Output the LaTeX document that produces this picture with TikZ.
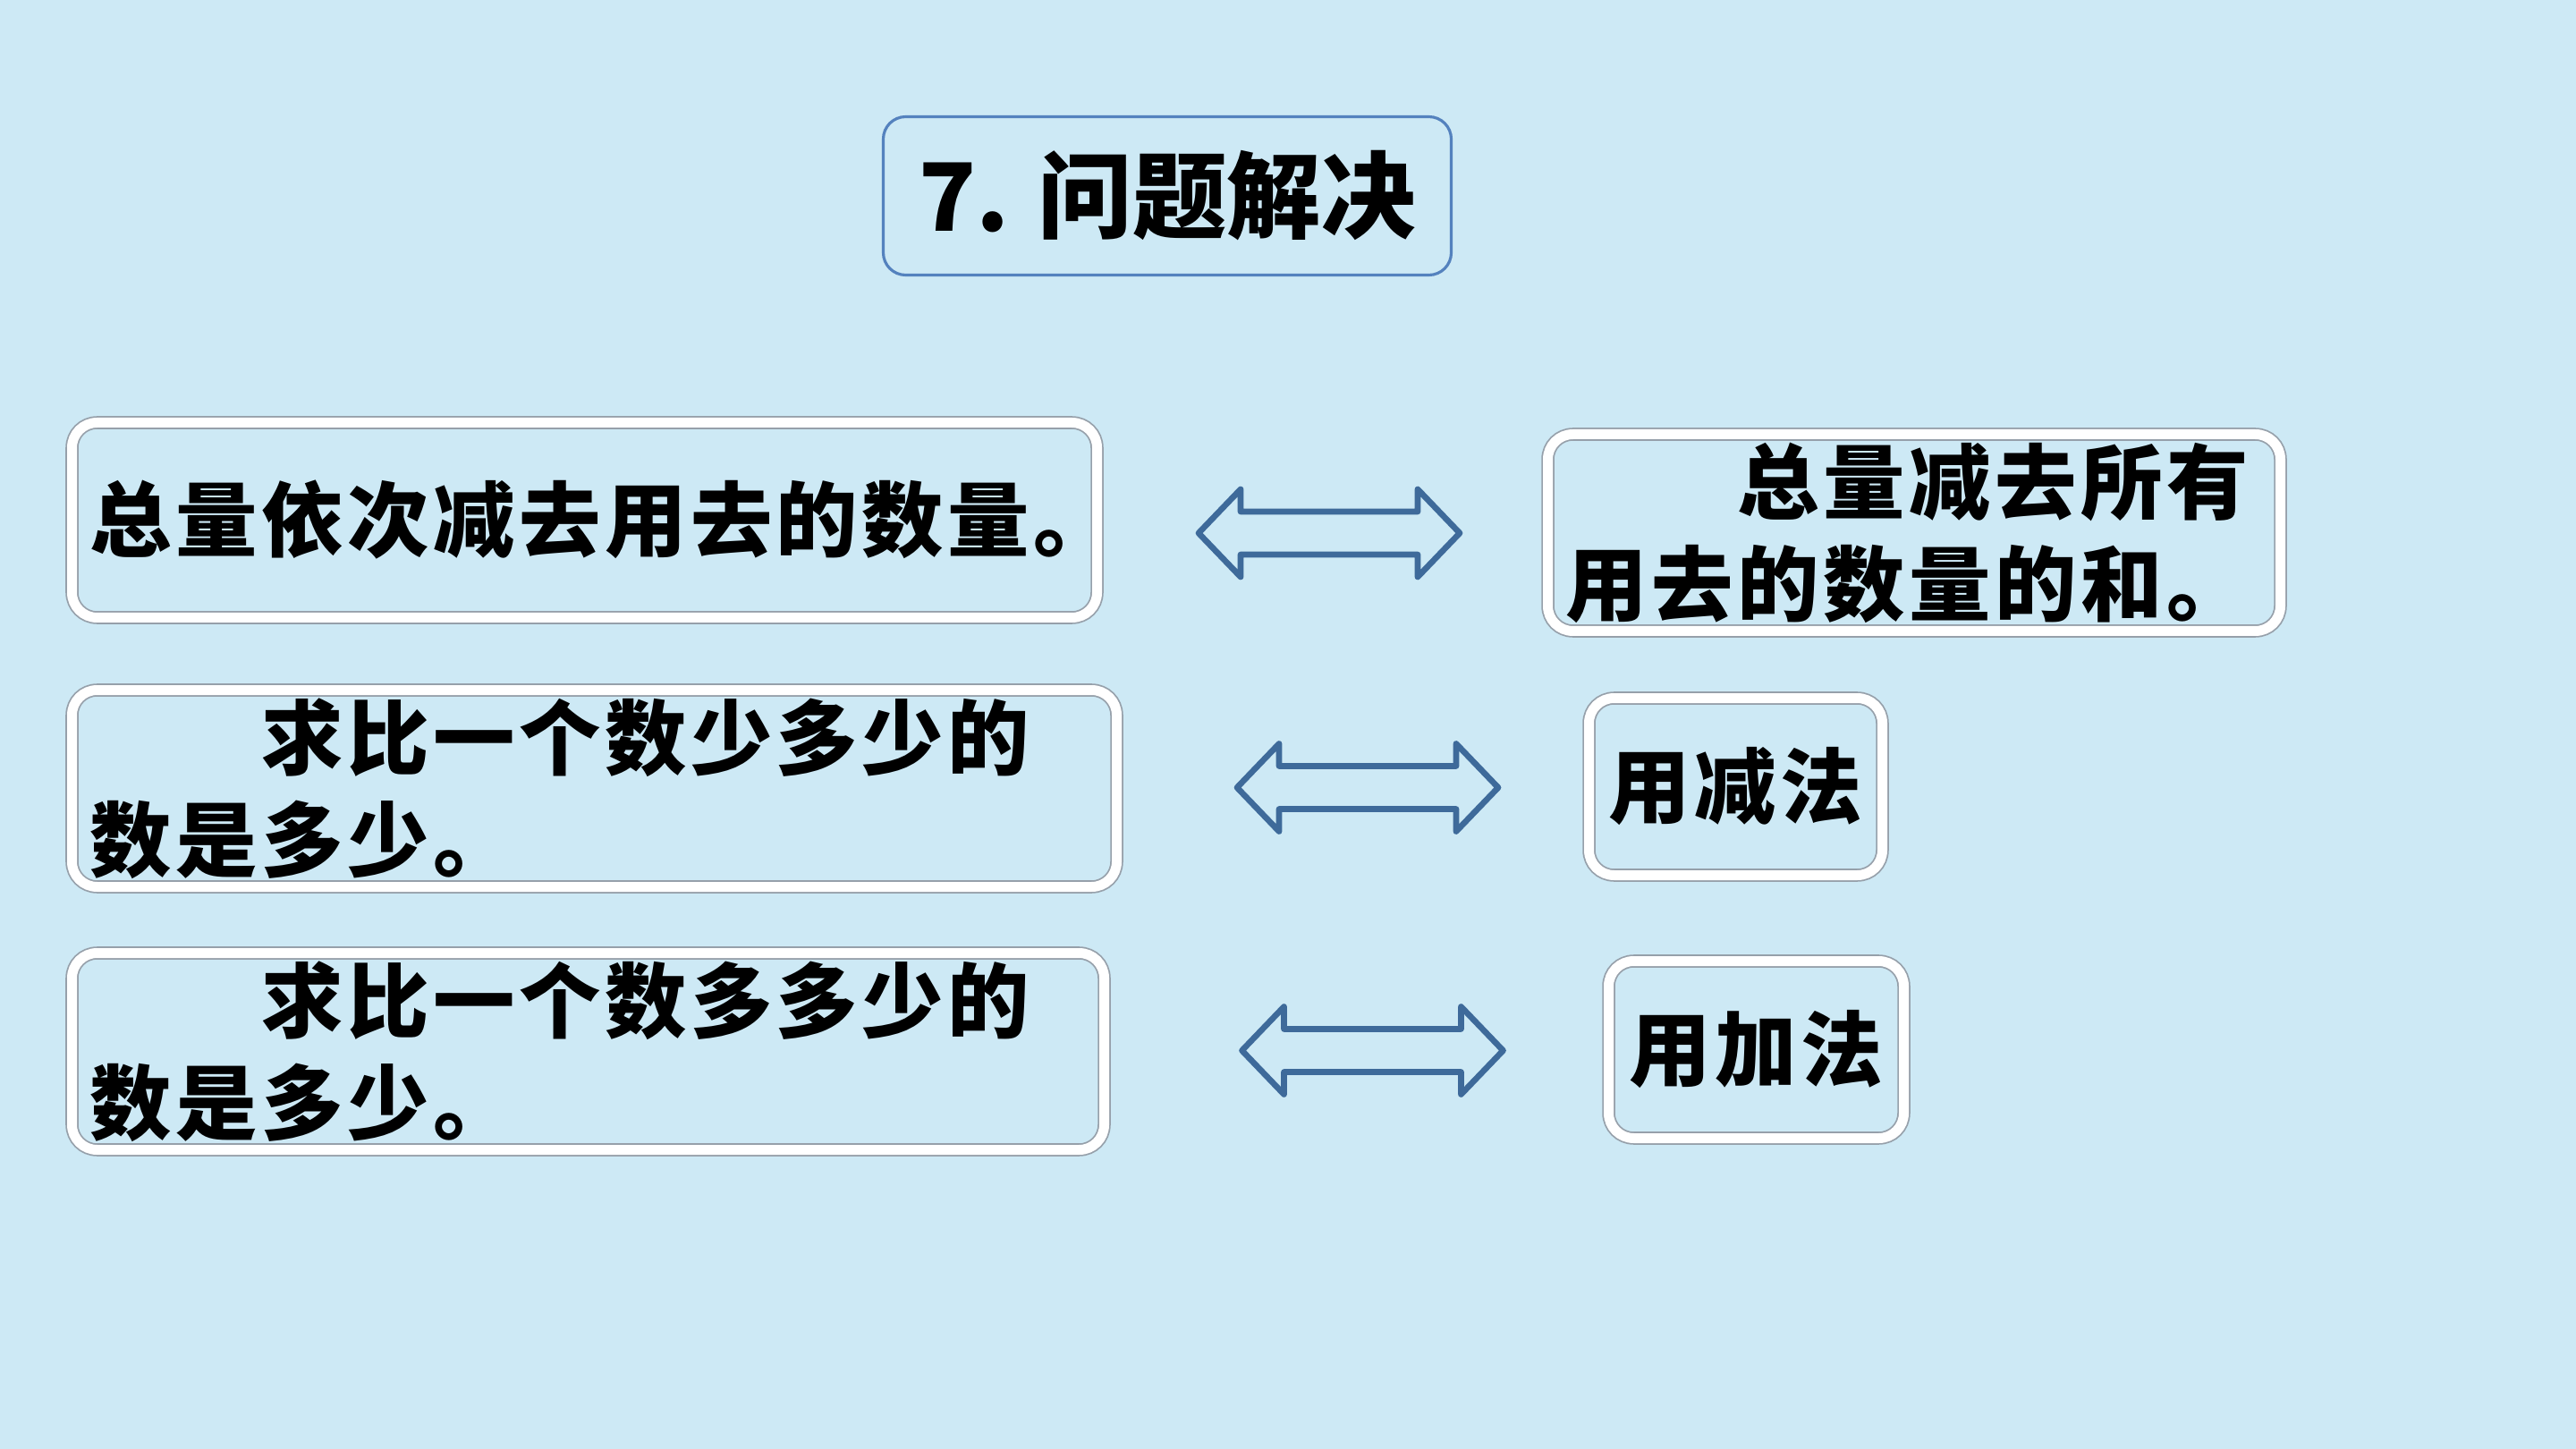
\documentclass[tikz,border=0pt]{standalone}
\usepackage{fontspec}
\setmainfont{Noto Sans CJK SC}
\newfontfamily\spacedcjk{Noto Sans CJK SC}[LetterSpace=5]
\definecolor{bg}{RGB}{205,233,245}
\definecolor{arrowblue}{RGB}{62,106,154}
\definecolor{titleblue}{RGB}{84,130,190}
\definecolor{framegray}{RGB}{150,160,170}
\tikzset{
  framebox/.style={draw=framegray, line width=0.5pt, double=white, double distance=0.11cm,
    rounded corners=0.28cm, fill=bg, inner xsep=0.2cm, inner ysep=0pt,
    font=\spacedcjk\fontsize{26}{32.4}\selectfont\bfseries, align=left},
  titlebox/.style={draw=titleblue, line width=0.9pt, rounded corners=0.25cm, fill=bg,
    minimum width=6.35cm, minimum height=1.77cm, font=\fontsize{30}{36}\selectfont\bfseries},
  arrowline/.style={draw=arrowblue, line width=1.9pt, line join=round},
  dblarrow/.pic={
    \draw[arrowline] (-1.46,0) -- (-0.99,-0.49) -- (-0.99,-0.24) -- (0.99,-0.24) -- (0.99,-0.49)
      -- (1.46,0) -- (0.99,0.49) -- (0.99,0.24) -- (-0.99,0.24) -- (-0.99,0.49) -- cycle;
  }
}
\begin{document}
\begin{tikzpicture}[x=1cm,y=-1cm]
\fill[bg] (0,0) rectangle (28.8,16.2);
\useasboundingbox (0,0) rectangle (28.8,16.2);

\node[titlebox] (title) at (13.05,2.19) {7. 问题解决};

\node[framebox, text width=11.06cm, minimum height=2.18cm] (l1) at (6.535,5.815)
  {总量依次减去用去的数量。};
\node[framebox, text width=7.79cm, minimum height=2.20cm] (r1) at (21.40,5.955)
  {　　总量减去所有\\用去的数量的和。};

\node[framebox, text width=11.28cm, minimum height=2.20cm] (l2) at (6.645,8.815)
  {　　求比一个数少多少的\\数是多少。};
\node[framebox, text width=2.88cm, minimum height=1.98cm, align=center] (r2) at (19.405,8.795)
  {用减法};

\node[framebox, text width=11.14cm, minimum height=2.20cm] (l3) at (6.575,11.755)
  {　　求比一个数多多少的\\数是多少。};
\node[framebox, text width=2.90cm, minimum height=1.98cm, align=center] (r3) at (19.635,11.735)
  {用加法};

\coordinate (a1) at (14.86,5.96);
\coordinate (a2) at (15.29,8.805);
\coordinate (a3) at (15.345,11.745);
\pic at (a1) {dblarrow};
\pic at (a2) {dblarrow};
\pic at (a3) {dblarrow};
\end{tikzpicture}
\end{document}
